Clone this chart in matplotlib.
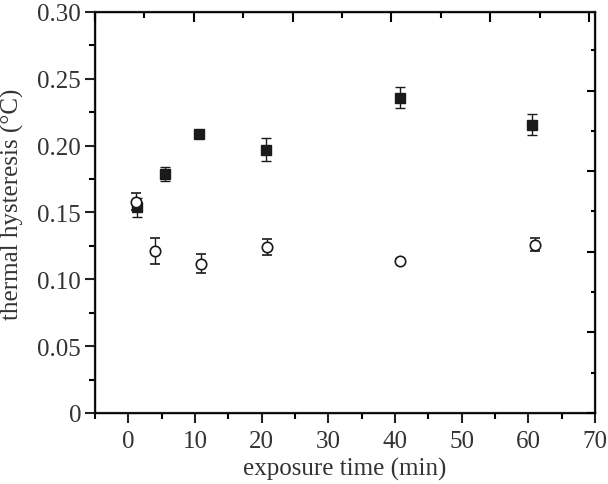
import matplotlib
matplotlib.use("Agg")
import matplotlib.pyplot as plt
from matplotlib.ticker import MultipleLocator

# filled squares
sq_time = [1.3, 5.5, 10.6, 20.6, 40.7, 60.6]
sq_val = [0.154, 0.1785, 0.209, 0.197, 0.236, 0.2157]
sq_err = [0.007, 0.0052, 0.0015, 0.0086, 0.0077, 0.008]

# open circles
ci_time = [1.1, 4.0, 10.9, 20.8, 40.7, 61.0]
ci_val = [0.158, 0.1212, 0.1117, 0.1242, 0.1139, 0.1259]
ci_err = [0.0065, 0.0098, 0.0072, 0.006, 0.0015, 0.005]

plt.rcParams['font.family'] = ['Liberation Serif', 'DejaVu Serif']

fig = plt.figure(figsize=(6.08, 4.85), dpi=100)
ax = fig.add_axes([0.1562, 0.1464, 0.8224, 0.8268])

ax.errorbar(sq_time, sq_val, yerr=sq_err, fmt='s', color='#1a1a1a', ms=6.5,
            capsize=3.3, elinewidth=1.0, capthick=1.0, zorder=3)
ax.errorbar(ci_time, ci_val, yerr=ci_err, fmt='o', color='#1a1a1a', mfc='white',
            mew=1.2, ms=7.5, capsize=3.3, elinewidth=1.0, capthick=1.0, zorder=3)

ax.set_xlim(-5, 70)
ax.set_ylim(0, 0.30)
ax.xaxis.set_major_locator(MultipleLocator(10))
ax.xaxis.set_minor_locator(MultipleLocator(5))
ax.yaxis.set_minor_locator(MultipleLocator(0.025))
ax.set_yticks([0, 0.05, 0.10, 0.15, 0.20, 0.25, 0.30])
ax.set_yticklabels(['0', '0.05', '0.10', '0.15', '0.20', '0.25', '0.30'])

ax.tick_params(axis='both', which='major', direction='out', length=7, width=1.5,
               labelsize=18, colors='#222222', labelcolor='#333333', pad=3)
ax.tick_params(axis='x', which='major', pad=5)
ax.tick_params(axis='both', which='minor', direction='out', length=4, width=1.5)
ax.tick_params(top=False, right=False, which='both')

for s in ax.spines.values():
    s.set_linewidth(1.6)
    s.set_color('#222222')

ax.set_xlabel('exposure time (min)', fontsize=18, color='#333333', labelpad=4)
ax.set_ylabel('thermal hysteresis (°C)', fontsize=18, color='#333333')
ax.yaxis.set_label_coords(-0.141, 0.524)

# top and right ticks of a differently scaled frame
axt = ax.twiny()
axt.set_xlim(0, 10.12)
axt.xaxis.set_major_locator(MultipleLocator(2))
axt.xaxis.set_minor_locator(MultipleLocator(1))
axt.tick_params(axis='x', which='major', direction='in', length=7, width=1.5, labeltop=False)
axt.tick_params(axis='x', which='minor', direction='in', length=4, width=1.5)

axr = ax.twinx()
axr.set_ylim(0, 9.95)
axr.yaxis.set_major_locator(MultipleLocator(2))
axr.yaxis.set_minor_locator(MultipleLocator(1))
axr.tick_params(axis='y', which='major', direction='in', length=6, width=1.5, labelright=False)
axr.tick_params(axis='y', which='minor', direction='in', length=3, width=1.5)

fig.savefig('out.png', dpi=100)
